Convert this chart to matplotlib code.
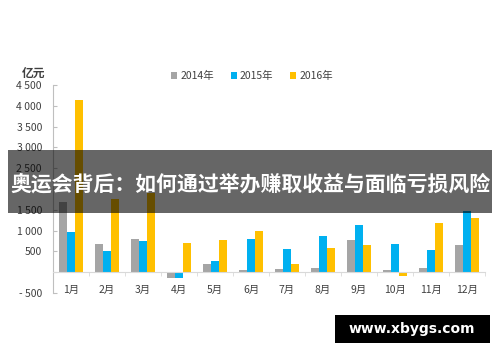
import matplotlib
matplotlib.use("Agg")
import matplotlib.pyplot as plt
import numpy as np
from matplotlib.patches import Rectangle

plt.rcParams['font.family'] = ['Noto Sans CJK SC', 'DejaVu Sans']

months = ['1月', '2月', '3月', '4月', '5月', '6月', '7月', '8月', '9月', '10月', '11月', '12月']
series_names = ['2014年', '2015年', '2016年']
v2014 = [1700, 690, 800, -130, 200, 45, 80, 110, 780, 60, 110, 650]
v2015 = [970, 500, 750, -130, 260, 810, 560, 870, 1130, 680, 540, 1470]
v2016 = [4150, 1760, 1900, 700, 780, 1000, 200, 575, 660, -80, 1190, 1300]
colors = ['#A5A5A5', '#00B0F0', '#FFC000']
ytick_values = [-500, 0, 500, 1000, 1500, 2000, 2500, 3000, 3500, 4000, 4500]
# the 2 000 label is covered by the banner in the reference
ytick_labels = ['- 500', '', '500', '1 000', '1 500', '', '2 500', '3 000', '3 500', '4 000', '4 500']
unit_label = '亿元'
banner_text = '奥运会背后：如何通过举办赚取收益与面临亏损风险'
watermark = 'www.xbygs.com'

fig = plt.figure(figsize=(5.0, 3.62), dpi=100)
ax = fig.add_axes([0.106, 0.1906, 0.864, 0.5744])

x = np.arange(len(months))
w = 0.215
for i, (vals, c, name) in enumerate(zip([v2014, v2015, v2016], colors, series_names)):
    ax.bar(x + (i - 1) * w, vals, width=w, color=c, label=name, zorder=2)

ax.set_xlim(-0.5, len(months) - 0.5)
ax.set_ylim(-500, 4500)
ax.set_yticks(ytick_values)
ax.set_yticklabels(ytick_labels)
ax.tick_params(axis='y', direction='in', length=3, color='#BFBFBF', labelsize=7.5,
               labelcolor='#404040', pad=8)

ax.set_xticks(x)
ax.set_xticklabels(months)
ax.set_xticks(np.arange(len(months) + 1) - 0.5, minor=True)
ax.tick_params(axis='x', which='major', length=0, labelsize=7.5, labelcolor='#404040', pad=9)
ax.tick_params(axis='x', which='minor', length=3, color='#D9D9D9', direction='out')

for s in ['top', 'right']:
    ax.spines[s].set_visible(False)
ax.spines['bottom'].set_position(('data', 0))
ax.spines['bottom'].set_color('#D9D9D9')
ax.spines['left'].set_color('#BFBFBF')
ax.spines['left'].set_linewidth(0.8)

fig.text(34 / 500, 1 - 73 / 362, unit_label, ha='center', va='center', fontsize=8.5,
         fontweight='bold', color='#404040')

handles, labels = ax.get_legend_handles_labels()
fig.legend(handles, labels, loc='center', bbox_to_anchor=(252 / 500, 1 - 76 / 362), ncol=3,
           frameon=False, fontsize=7.5, handlelength=0.6, handleheight=0.6,
           handletextpad=0.3, columnspacing=1.6, labelcolor='#404040')

# overlay banner
fig.patches.append(Rectangle((8 / 500, 1 - 213 / 362), 484 / 500, 63 / 362,
                             transform=fig.transFigure, facecolor='black', alpha=0.6,
                             edgecolor='none', zorder=10))
fig.text(250 / 500, 1 - 184 / 362, banner_text, ha='center', va='center', fontsize=15,
         fontweight='bold', color='white', zorder=11)

# watermark box
fig.patches.append(Rectangle((335 / 500, 1 - 343 / 362), 155 / 500, 28 / 362,
                             transform=fig.transFigure, facecolor='black',
                             edgecolor='none', zorder=10))
fig.text(412 / 500, 1 - 329 / 362, watermark, ha='center', va='center', fontsize=10,
         fontweight='bold', color='white', family='DejaVu Sans', zorder=11)

fig.savefig('out.png', dpi=100)
